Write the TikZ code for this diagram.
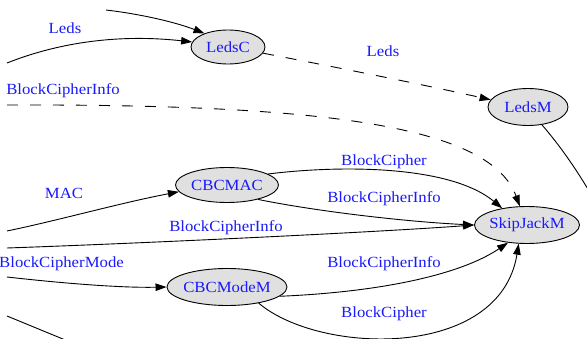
\documentclass[tikz,border=0pt]{standalone}
\usepackage{fontspec}
\setmainfont{Liberation Serif}[FakeStretch=1.08]
\usetikzlibrary{arrows.meta,shapes.geometric}
\definecolor{lblblue}{RGB}{25,25,250}
\definecolor{statefill}{RGB}{224,224,224}

\begin{document}
\begin{tikzpicture}[x=1pt,y=-1pt,
  labelfont/.style={font=\fontsize{15.5}{18}\selectfont},
  state/.style={ellipse, draw=black, line width=0.9pt, fill=statefill,
    text=lblblue, inner sep=0pt, labelfont},
  link/.style={line width=0.9pt, draw=black},
  arrowlink/.style={link, -{Triangle[length=11pt,width=7.5pt]}},
  dashlink/.style={dash pattern=on 11pt off 12pt},
  lab/.style={text=lblblue, inner sep=0pt, labelfont, anchor=base}]

\useasboundingbox (0,0) rectangle (587,339);
\clip (0,0) rectangle (587,339);

% modules
\node[state, minimum width=74pt,  minimum height=34pt] (LedsC)     at (228,47)  {\makebox[0pt]{LedsC}};
\node[state, minimum width=80pt,  minimum height=37pt] (LedsM)     at (528,107) {\makebox[0pt]{LedsM}};
\node[state, minimum width=103pt, minimum height=35pt] (CBCMAC)    at (227,185) {\makebox[0pt]{CBCMAC}};
\node[state, minimum width=120pt, minimum height=37pt] (CBCModeM)  at (227,287) {\makebox[0pt]{CBCModeM}};
\node[state, minimum width=105pt, minimum height=37pt] (SkipJackM) at (527,225) {\makebox[0pt]{SkipJackM}};

% loose ends of connections from modules outside the view
\coordinate (inTop)   at (106,10);
\coordinate (inLeds)  at (7,63);
\coordinate (inInfoA) at (7,105);
\coordinate (inMAC)   at (7,231);
\coordinate (inInfoB) at (7,248);
\coordinate (inMode)  at (7,277);
\coordinate (inLow)   at (7,316);
\coordinate (outLow)  at (75,344);
\coordinate (outLedsM) at (600,210);

% connections
\draw[arrowlink] (inTop) .. controls (140,14) and (175,22) .. (LedsC.150);
\draw[arrowlink] (inLeds) .. controls (60,42) and (120,34) .. (LedsC.172);
\draw[arrowlink, dashlink] (LedsC.-10) .. controls (340,68) and (420,84) .. (LedsM.169);
\draw[arrowlink, dashlink] (inInfoA) .. controls (320,104) and (490,125) .. (SkipJackM.111);
\draw[link] (LedsM.-52) .. controls (555,140) and (575,165) .. (outLedsM);
\draw[arrowlink] (CBCMAC.15) .. controls (340,165) and (450,165) .. (SkipJackM.146);
\draw[arrowlink] (CBCMAC.-25) .. controls (320,212) and (410,222) .. (SkipJackM.west);
\draw[arrowlink] (inInfoB) .. controls (150,243) and (380,232) .. (SkipJackM.west);
\draw[arrowlink] (inMAC) .. controls (60,220) and (120,203) .. (CBCMAC.188);
\draw[arrowlink] (inMode) .. controls (60,283) and (120,288) .. (CBCModeM.west);
\draw[arrowlink] (CBCModeM.-10) .. controls (380,292) and (460,275) .. (SkipJackM.223);
\draw[arrowlink] (CBCModeM.-27) .. controls (320,355) and (500,360) .. (SkipJackM.246);
\draw[link] (inLow) -- (outLow);

% connection labels
\node[lab] (lLedsA)  at (65,34)   {Leds};
\node[lab] (lInfoA)  at (63,95)   {BlockCipherInfo};
\node[lab] (lLedsB)  at (383,57)  {Leds};
\node[lab] (lBCA)    at (384,166) {BlockCipher};
\node[lab] (lMAC)    at (64,199)  {MAC};
\node[lab] (lInfoB)  at (384,203) {BlockCipherInfo};
\node[lab] (lInfoC)  at (226,232) {BlockCipherInfo};
\node[lab, anchor=base east] (lMode) at (124,268) {BlockCipherMode};
\node[lab] (lInfoD)  at (384,268) {BlockCipherInfo};
\node[lab] (lBCB)    at (384,318) {BlockCipher};
\end{tikzpicture}
\end{document}
